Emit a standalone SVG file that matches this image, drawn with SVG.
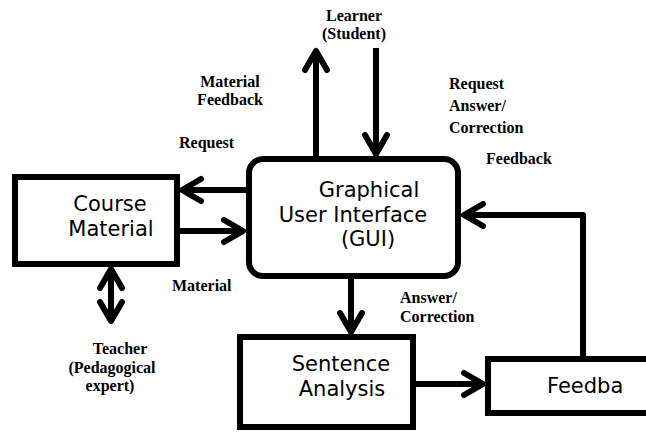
<svg xmlns="http://www.w3.org/2000/svg" width="646" height="432" viewBox="0 0 646 432">
<style>
.box{fill:#fff;stroke:#000;stroke-width:6}
.ln{fill:none;stroke:#000;stroke-width:6;stroke-linejoin:round}
.bt{font-family:"DejaVu Sans",sans-serif;font-size:21px;fill:#000}
.lb{font-family:"Liberation Serif",serif;font-size:16px;font-weight:bold;fill:#000}
</style>
<defs>
<marker id="ah" markerUnits="userSpaceOnUse" markerWidth="40" markerHeight="40" viewBox="-25 -20 40 40" refX="0" refY="0" orient="auto-start-reverse" overflow="visible">
<path d="M-19,-11 L0,0 L-19,11" fill="none" stroke="#000" stroke-width="6" stroke-linecap="round" stroke-linejoin="round"/>
</marker>
</defs>
<rect width="646" height="432" fill="#fff"/>
<g id="connectors">
<line class="ln" x1="316" y1="157" x2="316" y2="51" marker-end="url(#ah)"/>
<line class="ln" x1="376" y1="48" x2="376" y2="154" marker-end="url(#ah)"/>
<line class="ln" x1="247" y1="190" x2="182" y2="190" marker-end="url(#ah)"/>
<line class="ln" x1="179" y1="231" x2="243" y2="231" marker-end="url(#ah)"/>
<polyline class="ln" points="583,357 583,215 464,215" marker-end="url(#ah)"/>
<line class="ln" x1="351" y1="278" x2="351" y2="332" marker-end="url(#ah)"/>
<line class="ln" x1="415" y1="384" x2="483" y2="384" marker-end="url(#ah)"/>
<line class="ln" x1="111" y1="269" x2="111" y2="321" marker-start="url(#ah)" marker-end="url(#ah)"/>
</g>
<g id="course">
<rect class="box" x="15" y="177" width="162" height="87"/>
<text class="bt" x="110" y="211" text-anchor="middle">Course</text>
<text class="bt" x="111" y="236" text-anchor="middle">Material</text>
</g>
<g id="gui">
<rect class="box" x="249" y="159" width="209" height="117" rx="14"/>
<text class="bt" x="369" y="197" text-anchor="middle">Graphical</text>
<text class="bt" x="353" y="222" text-anchor="middle">User Interface</text>
<text class="bt" x="368" y="246" text-anchor="middle">(GUI)</text>
</g>
<g id="sentence">
<rect class="box" x="240" y="337" width="173" height="90"/>
<text class="bt" x="341" y="371" text-anchor="middle">Sentence</text>
<text class="bt" x="342" y="396" text-anchor="middle">Analysis</text>
</g>
<g id="feedback">
<rect class="box" x="488" y="359" width="170" height="54"/>
<text class="bt" x="547" y="393">Feedba</text>
</g>
<g id="labels">
<text class="lb" x="354" y="21" text-anchor="middle">Learner</text>
<text class="lb" x="354" y="39" text-anchor="middle">(Student)</text>
<text class="lb" x="230" y="87" text-anchor="middle">Material</text>
<text class="lb" x="230" y="105" text-anchor="middle">Feedback</text>
<text class="lb" x="179" y="148">Request</text>
<text class="lb" x="449" y="89">Request</text>
<text class="lb" x="449" y="111">Answer/</text>
<text class="lb" x="449" y="133">Correction</text>
<text class="lb" x="486" y="164">Feedback</text>
<text class="lb" x="172" y="291">Material</text>
<text class="lb" x="400" y="303">Answer/</text>
<text class="lb" x="400" y="322">Correction</text>
<text class="lb" x="120" y="354" text-anchor="middle">Teacher</text>
<text class="lb" x="112" y="373" text-anchor="middle">(Pedagogical</text>
<text class="lb" x="110" y="391" text-anchor="middle">expert)</text>
</g>
</svg>
